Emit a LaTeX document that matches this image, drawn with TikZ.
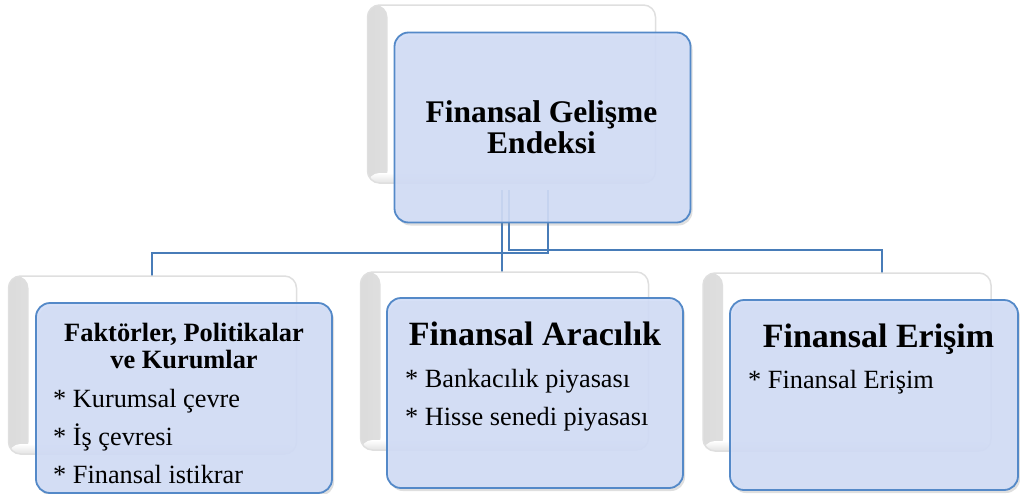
\documentclass[tikz,border=0pt]{standalone}
\usepackage{fontspec}
\setmainfont{Liberation Serif}
\usetikzlibrary{shadows,calc}
\definecolor{boxfill}{RGB}{210,221,247}
\definecolor{boxline}{RGB}{84,137,200}
\definecolor{conn}{RGB}{72,124,184}
\begin{document}
\begin{tikzpicture}[x=1pt,y=1pt,
  backbox/.style={rounded corners=12pt, fill=white, draw=gray!25, line width=1.5pt, inner sep=0pt,
    minimum width=288pt, minimum height=178pt,
    path picture={
      \shade[left color=gray!28, right color=white, middle color=gray!8]
        (path picture bounding box.south west) rectangle ([xshift=20pt]path picture bounding box.north west);
      \shade[bottom color=gray!22, top color=white]
        (path picture bounding box.south west) rectangle ([yshift=10pt]path picture bounding box.south east);
    }},
  frontbox/.style={rounded corners=14pt, fill=boxfill, fill opacity=0.9, draw=boxline, line width=1.8pt,
    inner sep=0pt, minimum width=296pt, minimum height=190pt,
    drop shadow={opacity=0.25, shadow xshift=2pt, shadow yshift=-3pt}},
  conline/.style={draw=conn, line width=2pt},
  titlebig/.style={inner sep=0pt, anchor=base, font=\fontsize{34}{40}\selectfont\bfseries},
  titletop/.style={inner sep=0pt, anchor=base, font=\fontsize{31.5}{36}\selectfont\bfseries},
  titlesmall/.style={inner sep=0pt, anchor=base, font=\fontsize{26.4}{30}\selectfont\bfseries},
  itemtxt/.style={inner sep=0pt, anchor=base west, font=\fontsize{26.3}{30}\selectfont},
]
\useasboundingbox (0,0) rectangle (1020,-493);

% connector end points
\coordinate (s1) at (548,-190);
\coordinate (s2) at (502,-190);
\coordinate (s3) at (509,-190);
\coordinate (e1) at (152,-281);
\coordinate (e2) at (502,-281);
\coordinate (e3) at (882,-281);

% connectors
\draw[conline] (s1) |- (152,-253) -- (e1);
\draw[conline] (s2) -- (e2);
\draw[conline] (s3) |- (882,-250) -- (e3);

% top group
\node[backbox] (rootback) at (511.5,-94) {};
\node[frontbox] (root) at (542.5,-127.5) {};
\node[titletop] (rt1) at (541.5,-122) {Finansal Gelişme};
\node[titletop] (rt2) at (541.5,-153) {Endeksi};

% left group
\node[backbox] (lback) at (152.5,-365) {};
\node[frontbox] (lfront) at (184,-398) {};
\node[titlesmall] (lt1) at (184,-341) {Faktörler, Politikalar};
\node[titlesmall] (lt2) at (184,-368) {ve Kurumlar};
\node[itemtxt] (li1) at (53,-407) {* Kurumsal çevre};
\node[itemtxt] (li2) at (53,-445) {* İş çevresi};
\node[itemtxt] (li3) at (53,-483) {* Finansal istikrar};

% middle group
\node[backbox] (mback) at (504.5,-361) {};
\node[frontbox] (mfront) at (535,-393) {};
\node[titlebig] (mt) at (535,-345) {Finansal Aracılık};
\node[itemtxt] (mi1) at (405,-387) {* Bankacılık piyasası};
\node[itemtxt] (mi2) at (405,-425) {* Hisse senedi piyasası};

% right group
\node[backbox] (rback) at (847,-362) {};
\node[frontbox, minimum width=288pt] (rfront) at (874,-395) {};
\node[titlebig] (rt) at (878.5,-347) {Finansal Erişim};
\node[itemtxt] (ri1) at (748,-388) {* Finansal Erişim};
\end{tikzpicture}
\end{document}
